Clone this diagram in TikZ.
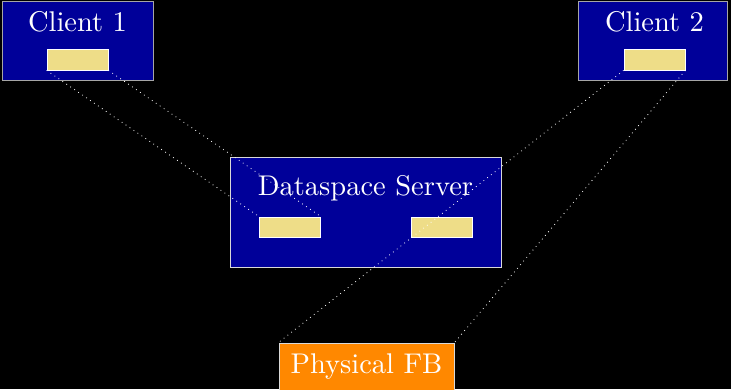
\documentclass[tikz,border=0pt]{standalone}
\usepackage{fontspec}
\newfontfamily\bigf[Scale=2.85]{lmroman10-regular.otf}
\definecolor{boxblue}{HTML}{000099}
\definecolor{slotyellow}{HTML}{EEDD88}
\definecolor{fborange}{HTML}{FF8800}
\tikzset{
  bigbox/.style={draw=gray!70, line width=1pt, fill=boxblue, inner sep=0pt, rectangle},
  slotbox/.style={draw=white, line width=0.8pt, fill=slotyellow, inner sep=0pt, minimum width=61pt, minimum height=21pt},
  title/.style={text=white, anchor=base, inner sep=0pt, font=\bigf},
  link/.style={draw=white, line width=0.8pt, dash pattern=on 0.8pt off 4pt}
}
\begin{document}
\begin{tikzpicture}[x=1pt,y=-1pt]
\clip (0,0) rectangle (731,389);
\fill[black] (0,0) rectangle (731,389);
\node[bigbox, minimum width=151pt, minimum height=79pt] (client1) at (77.5,40.5) {};
\node[bigbox, minimum width=149pt, minimum height=79pt] (client2) at (652.5,40.5) {};
\node[bigbox, draw=gray!30, minimum width=271pt, minimum height=110pt] (server) at (365.5,212) {};
\node[bigbox, draw=gray!30, fill=fborange, minimum width=175pt, minimum height=54pt] (fb) at (366.5,370) {};
\node[slotbox] (c1slot) at (77.5,59.5) {};
\node[slotbox] (c2slot) at (654.5,59.5) {};
\node[slotbox, minimum height=20pt] (s1slot) at (290,227) {};
\node[slotbox, minimum height=20pt] (s2slot) at (441.5,227) {};
\node[title] (t1) at (77.5,31.5) {Client 1};
\node[title] (t2) at (654.5,31.5) {Client 2};
\node[title] (ts) at (365.5,195) {Dataspace Server};
\node[title] (tf) at (366.5,373) {Physical FB};
\draw[link] (c1slot.south west) -- (s1slot.north west);
\draw[link] (c1slot.south east) -- (s1slot.north east);
\draw[link] (c2slot.south west) -- (fb.north west);
\draw[link] (c2slot.south east) -- (fb.north east);
\end{tikzpicture}
\end{document}
